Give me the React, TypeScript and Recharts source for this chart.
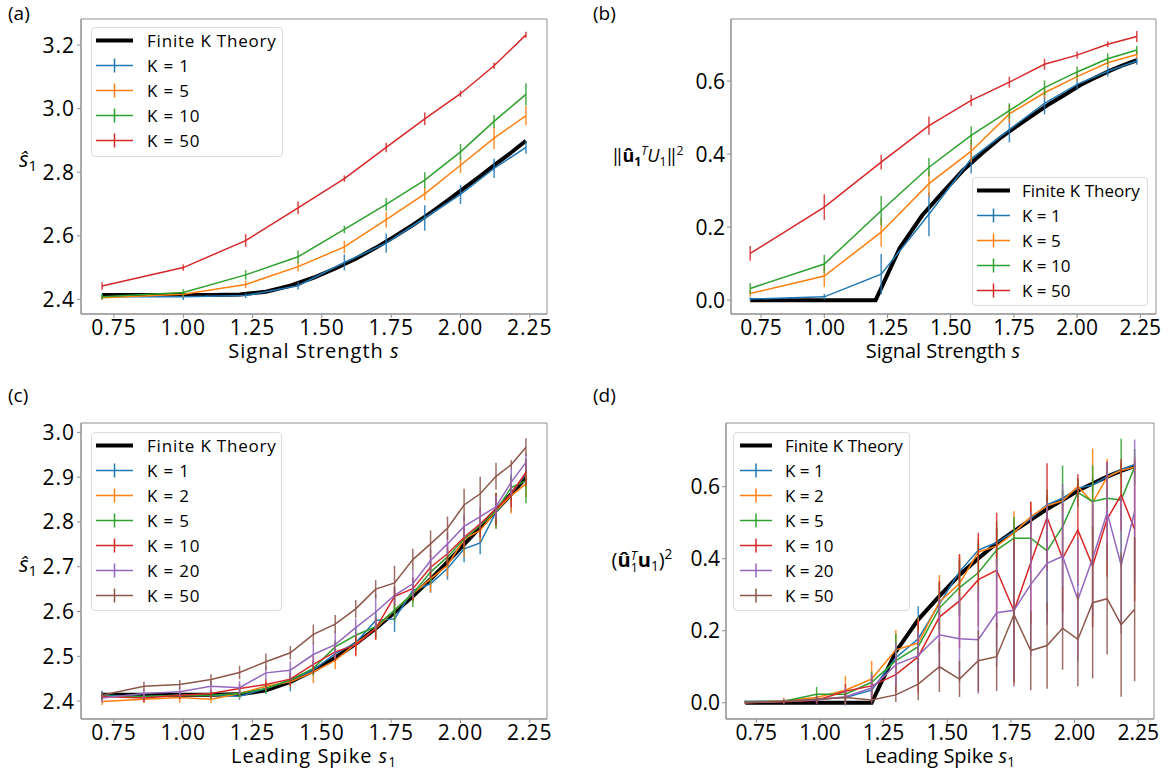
import React from 'react'
import { LineChart, Line, XAxis, YAxis, ErrorBar, ReferenceArea } from 'recharts'

// signal strengths used in panels (a) and (b)
const S10 = [0.707, 1.0, 1.225, 1.414, 1.581, 1.732, 1.871, 2.0, 2.121, 2.236]
// leading spikes used in panels (c) and (d), also the theory grid
const S20 = [0.707, 0.858, 0.987, 1.1, 1.203, 1.298, 1.386, 1.469, 1.548, 1.622,
  1.694, 1.762, 1.828, 1.892, 1.953, 2.013, 2.071, 2.128, 2.183, 2.236]
const X_TICKS = [0.75, 1.0, 1.25, 1.5, 1.75, 2.0, 2.25]
const X_DOMAIN: [number, number] = [0.631, 2.312]

// theory curves
const theoryS = [2.414, 2.414, 2.414, 2.414, 2.415, 2.424, 2.443, 2.468, 2.497, 2.528,
  2.562, 2.598, 2.634, 2.672, 2.711, 2.750, 2.788, 2.826, 2.862, 2.899]
const theoryU = [0, 0, 0, 0, 0, 0.142, 0.231, 0.296, 0.355, 0.401,
  0.443, 0.477, 0.508, 0.538, 0.563, 0.589, 0.609, 0.628, 0.644, 0.657]

// (a)
const aK1 = [2.408, 2.408, 2.412, 2.443, 2.516, 2.577, 2.656, 2.730, 2.812, 2.878]
const aK1E = [0.008, 0.01, 0.008, 0.012, 0.025, 0.03, 0.04, 0.03, 0.03, 0.02]
const aK5 = [2.405, 2.416, 2.447, 2.503, 2.565, 2.651, 2.732, 2.822, 2.907, 2.978]
const aK5E = [0.006, 0.008, 0.012, 0.015, 0.02, 0.025, 0.02, 0.025, 0.035, 0.03]
const aK10 = [2.408, 2.422, 2.477, 2.534, 2.620, 2.699, 2.775, 2.864, 2.960, 3.045]
const aK10E = [0.008, 0.01, 0.015, 0.02, 0.012, 0.02, 0.025, 0.025, 0.02, 0.035]
const aK50 = [2.442, 2.500, 2.585, 2.688, 2.780, 2.878, 2.968, 3.047, 3.135, 3.232]
const aK50E = [0.012, 0.01, 0.02, 0.02, 0.01, 0.015, 0.02, 0.01, 0.01, 0.01]

// (b)
const bK1 = [0.003, 0.009, 0.071, 0.235, 0.387, 0.467, 0.539, 0.591, 0.627, 0.655]
const bK1E = [0.005, 0.008, 0.055, 0.06, 0.04, 0.035, 0.03, 0.015, 0.015, 0.01]
const bK5 = [0.018, 0.066, 0.186, 0.319, 0.408, 0.510, 0.568, 0.612, 0.650, 0.673]
const bK5E = [0.008, 0.03, 0.04, 0.035, 0.03, 0.025, 0.015, 0.012, 0.012, 0.01]
const bK10 = [0.032, 0.099, 0.245, 0.364, 0.451, 0.519, 0.582, 0.625, 0.661, 0.685]
const bK10E = [0.015, 0.025, 0.04, 0.025, 0.025, 0.02, 0.02, 0.015, 0.015, 0.012]
const bK50 = [0.128, 0.255, 0.378, 0.478, 0.547, 0.597, 0.646, 0.671, 0.701, 0.722]
const bK50E = [0.02, 0.035, 0.02, 0.025, 0.015, 0.015, 0.015, 0.01, 0.008, 0.015]

// (c)
const cK1 = [2.413, 2.410, 2.413, 2.413, 2.411, 2.428, 2.447, 2.469, 2.506, 2.530, 2.580, 2.584, 2.647, 2.662, 2.696, 2.740, 2.753, 2.822, 2.863, 2.907]
const cK1E = [0.01, 0.006, 0.008, 0.008, 0.008, 0.01, 0.025, 0.012, 0.015, 0.015, 0.02, 0.03, 0.025, 0.02, 0.025, 0.03, 0.025, 0.03, 0.04, 0.03]
const cK2 = [2.399, 2.404, 2.408, 2.404, 2.417, 2.433, 2.443, 2.465, 2.491, 2.528, 2.562, 2.603, 2.640, 2.673, 2.703, 2.762, 2.781, 2.825, 2.859, 2.885]
const cK2E = [0.008, 0.008, 0.012, 0.008, 0.01, 0.01, 0.012, 0.025, 0.02, 0.025, 0.025, 0.02, 0.02, 0.03, 0.025, 0.04, 0.025, 0.04, 0.04, 0.03]
const cK5 = [2.411, 2.410, 2.413, 2.413, 2.417, 2.428, 2.447, 2.473, 2.521, 2.547, 2.566, 2.603, 2.640, 2.688, 2.722, 2.762, 2.792, 2.825, 2.877, 2.892]
const cK5E = [0.008, 0.008, 0.008, 0.008, 0.008, 0.012, 0.012, 0.015, 0.015, 0.02, 0.025, 0.025, 0.03, 0.025, 0.02, 0.025, 0.02, 0.04, 0.03, 0.05]
const cK10 = [2.410, 2.407, 2.413, 2.417, 2.428, 2.437, 2.449, 2.482, 2.510, 2.525, 2.562, 2.634, 2.651, 2.699, 2.729, 2.766, 2.796, 2.829, 2.863, 2.911]
const cK10E = [0.008, 0.01, 0.008, 0.01, 0.01, 0.012, 0.015, 0.02, 0.02, 0.025, 0.025, 0.02, 0.025, 0.025, 0.025, 0.025, 0.03, 0.035, 0.03, 0.03]
const cK20 = [2.407, 2.417, 2.421, 2.433, 2.430, 2.463, 2.469, 2.504, 2.526, 2.564, 2.599, 2.636, 2.662, 2.714, 2.751, 2.790, 2.812, 2.834, 2.889, 2.933]
const cK20E = [0.01, 0.01, 0.01, 0.012, 0.015, 0.015, 0.02, 0.025, 0.03, 0.02, 0.04, 0.02, 0.03, 0.025, 0.025, 0.025, 0.02, 0.025, 0.03, 0.02]
const cK50 = [2.413, 2.433, 2.437, 2.448, 2.464, 2.488, 2.508, 2.549, 2.572, 2.606, 2.650, 2.664, 2.716, 2.751, 2.786, 2.838, 2.863, 2.902, 2.928, 2.967]
const cK50E = [0.008, 0.01, 0.01, 0.012, 0.015, 0.018, 0.015, 0.022, 0.02, 0.02, 0.02, 0.038, 0.024, 0.03, 0.026, 0.036, 0.038, 0.03, 0.01, 0.02]

// (d)
const dK1 = [0.003, 0.004, 0.010, 0.015, 0.035, 0.125, 0.178, 0.275, 0.364, 0.424, 0.445, 0.475, 0.512, 0.550, 0.568, 0.596, 0.605, 0.628, 0.647, 0.661]
const dK1E = [0.004, 0.004, 0.006, 0.01, 0.02, 0.03, 0.09, 0.03, 0.03, 0.03, 0.04, 0.03, 0.03, 0.02, 0.02, 0.02, 0.02, 0.02, 0.02, 0.01]
const dK2 = [0.001, 0.006, 0.015, 0.035, 0.066, 0.147, 0.166, 0.280, 0.331, 0.419, 0.435, 0.472, 0.517, 0.547, 0.561, 0.601, 0.556, 0.627, 0.645, 0.654]
const dK2E = [0.003, 0.008, 0.01, 0.04, 0.05, 0.055, 0.07, 0.075, 0.08, 0.04, 0.05, 0.06, 0.04, 0.03, 0.03, 0.02, 0.15, 0.05, 0.02, 0.02]
const dK5 = [0.003, 0.004, 0.024, 0.024, 0.057, 0.117, 0.156, 0.263, 0.320, 0.361, 0.424, 0.457, 0.457, 0.422, 0.489, 0.584, 0.559, 0.568, 0.563, 0.655]
const dK5E = [0.003, 0.005, 0.02, 0.01, 0.03, 0.075, 0.06, 0.07, 0.08, 0.08, 0.08, 0.06, 0.07, 0.17, 0.17, 0.04, 0.1, 0.1, 0.17, 0.05]
const dK10 = [0, 0.003, 0.007, 0.032, 0.047, 0.078, 0.128, 0.238, 0.283, 0.342, 0.368, 0.255, 0.389, 0.515, 0.401, 0.480, 0.380, 0.510, 0.577, 0.482]
const dK10E = [0.003, 0.005, 0.01, 0.02, 0.03, 0.05, 0.1, 0.1, 0.13, 0.13, 0.16, 0.2, 0.17, 0.15, 0.15, 0.155, 0.17, 0.16, 0.1, 0.2]
const dK20 = [0.001, 0.004, 0.008, 0.017, 0.041, 0.106, 0.131, 0.189, 0.178, 0.175, 0.250, 0.257, 0.329, 0.387, 0.407, 0.286, 0.401, 0.528, 0.382, 0.531]
const dK20E = [0.003, 0.005, 0.01, 0.025, 0.04, 0.06, 0.07, 0.1, 0.12, 0.15, 0.15, 0.19, 0.2, 0.17, 0.2, 0.17, 0.16, 0.14, 0.19, 0.2]
const dK50 = [0, 0.004, 0.010, 0.015, 0.008, 0.022, 0.052, 0.100, 0.066, 0.117, 0.128, 0.245, 0.145, 0.159, 0.207, 0.176, 0.278, 0.289, 0.217, 0.260]
const dK50E = [0.003, 0.005, 0.01, 0.015, 0.01, 0.02, 0.045, 0.07, 0.05, 0.085, 0.095, 0.2, 0.11, 0.12, 0.115, 0.13, 0.21, 0.155, 0.2, 0.2]

const BLUE = '#1f77b4'
const ORANGE = '#ff7f0e'
const GREEN = '#2ca02c'
const RED = '#d62728'
const PURPLE = '#9467bd'
const BROWN = '#8c564b'
const SPINE = '#8f8f8f'
const FONT = "'Open Sans', 'Noto Sans', sans-serif"

type Ser = { name: string; color: string; xs: number[]; ys: number[]; es: number[] }

const toRows = (xs: number[], ys: number[], es?: number[]) =>
  xs.map((x, i) => ({ x, y: ys[i], e: es ? es[i] : 0 }))

type PanelProps = {
  plotLeft: number
  plotTop: number
  plotW: number
  plotH: number
  yDomain: [number, number]
  yTicks: number[]
  theory: number[]
  series: Ser[]
  spacing: number
}

function Panel(p: PanelProps) {
  const tick = { fill: '#000', fontSize: 21, fontFamily: FONT }
  return (
    <div style={{ position: 'absolute', left: p.plotLeft - 75, top: p.plotTop - 10, letterSpacing: p.spacing }}>
      <LineChart width={p.plotW + 85} height={p.plotH + 55} margin={{ top: 10, right: 10, bottom: 0, left: 0 }}>
        <XAxis dataKey="x" type="number" domain={X_DOMAIN} ticks={X_TICKS} interval={0} allowDataOverflow
          tickFormatter={(v: number) => v.toFixed(2)} height={45} tickSize={4} tickMargin={2}
          stroke={SPINE} tick={tick} />
        <YAxis type="number" domain={p.yDomain} ticks={p.yTicks} interval={0} allowDataOverflow
          tickFormatter={(v: number) => v.toFixed(1)} width={75} tickSize={4} tickMargin={2}
          stroke={SPINE} tick={tick} />
        {/* frame: top and right spines */}
        <ReferenceArea x1={X_DOMAIN[0]} x2={X_DOMAIN[1]} y1={p.yDomain[0]} y2={p.yDomain[1]}
          fill="none" fillOpacity={0} stroke={SPINE} strokeWidth={1} ifOverflow="visible" />
        <Line data={toRows(S20, p.theory)} dataKey="y" stroke="#000" strokeWidth={4}
          dot={false} activeDot={false} isAnimationActive={false} />
        {p.series.map((s) => (
          <Line key={s.name} data={toRows(s.xs, s.ys, s.es)} dataKey="y" stroke={s.color}
            strokeWidth={1.5} dot={false} activeDot={false} isAnimationActive={false}>
            <ErrorBar dataKey="e" direction="y" width={0} stroke={s.color} strokeWidth={1.5}
              strokeOpacity={0.85} />
          </Line>
        ))}
      </LineChart>
    </div>
  )
}

type LegendProps = {
  left: number
  top: number
  width: number
  height: number
  names: string[]
  colors: string[]
  iconX0: number
  iconX1: number
  textX: number
  spacing: number
}

function LegendBox(l: LegendProps) {
  const rows = ['Finite K Theory', ...l.names]
  const mid = (l.iconX0 + l.iconX1) / 2
  return (
    <div style={{
      position: 'absolute', left: l.left, top: l.top, width: l.width, height: l.height,
      border: '1px solid #dcdcdc', borderRadius: 4, background: 'rgba(255,255,255,0.85)',
      boxSizing: 'border-box', fontFamily: FONT, fontSize: 17, letterSpacing: l.spacing
    }}>
      {rows.map((name, i) => (
        <div key={name} style={{ position: 'absolute', left: -1, top: 13 + i * 25 - 12.5 - 1, height: 25, width: l.width }}>
          <svg width={l.iconX1 + 4} height={25} style={{ position: 'absolute', left: 0, top: 0 }}>
            {i === 0 ? (
              <line x1={l.iconX0} x2={l.iconX1} y1={12.5} y2={12.5} stroke="#000" strokeWidth={4} />
            ) : (
              <g stroke={l.colors[i - 1]} strokeWidth={1.5}>
                <line x1={l.iconX0} x2={l.iconX1} y1={12.5} y2={12.5} />
                <line x1={mid} x2={mid} y1={5.5} y2={19.5} />
              </g>
            )}
          </svg>
          <span style={{ position: 'absolute', left: l.textX, top: 0, lineHeight: '25px', whiteSpace: 'nowrap', color: '#000' }}>
            {name}
          </span>
        </div>
      ))}
    </div>
  )
}

const Txt = ({ x, y, size, spacing, children }: { x: number; y: number; size: number; spacing?: number; children: React.ReactNode }) => (
  <div style={{
    position: 'absolute', left: x, top: y, transform: 'translate(-50%, -50%)', whiteSpace: 'nowrap',
    fontFamily: FONT, fontSize: size, lineHeight: 1, color: '#000', letterSpacing: spacing || 0
  }}>{children}</div>
)

const Tag = ({ x, y, children }: { x: number; y: number; children: React.ReactNode }) => (
  <div style={{ position: 'absolute', left: x, top: y, fontFamily: FONT, fontSize: 19, lineHeight: 1, color: '#000' }}>{children}</div>
)

const sub = { fontSize: '0.68em', verticalAlign: '-0.3em', lineHeight: 0 }
const sup = { fontSize: '0.68em', verticalAlign: '0.55em', lineHeight: 0 }

const kNames4 = ['K = 1', 'K = 5', 'K = 10', 'K = 50']
const kColors4 = [BLUE, ORANGE, GREEN, RED]
const kNames6 = ['K = 1', 'K = 2', 'K = 5', 'K = 10', 'K = 20', 'K = 50']
const kColors6 = [BLUE, ORANGE, GREEN, RED, PURPLE, BROWN]

export default function App() {
  const aSeries: Ser[] = [
    { name: 'K = 1', color: BLUE, xs: S10, ys: aK1, es: aK1E },
    { name: 'K = 5', color: ORANGE, xs: S10, ys: aK5, es: aK5E },
    { name: 'K = 10', color: GREEN, xs: S10, ys: aK10, es: aK10E },
    { name: 'K = 50', color: RED, xs: S10, ys: aK50, es: aK50E },
  ]
  const bSeries: Ser[] = [
    { name: 'K = 1', color: BLUE, xs: S10, ys: bK1, es: bK1E },
    { name: 'K = 5', color: ORANGE, xs: S10, ys: bK5, es: bK5E },
    { name: 'K = 10', color: GREEN, xs: S10, ys: bK10, es: bK10E },
    { name: 'K = 50', color: RED, xs: S10, ys: bK50, es: bK50E },
  ]
  const cSeries: Ser[] = [
    { name: 'K = 1', color: BLUE, xs: S20, ys: cK1, es: cK1E },
    { name: 'K = 2', color: ORANGE, xs: S20, ys: cK2, es: cK2E },
    { name: 'K = 5', color: GREEN, xs: S20, ys: cK5, es: cK5E },
    { name: 'K = 10', color: RED, xs: S20, ys: cK10, es: cK10E },
    { name: 'K = 20', color: PURPLE, xs: S20, ys: cK20, es: cK20E },
    { name: 'K = 50', color: BROWN, xs: S20, ys: cK50, es: cK50E },
  ]
  const dSeries: Ser[] = [
    { name: 'K = 1', color: BLUE, xs: S20, ys: dK1, es: dK1E },
    { name: 'K = 2', color: ORANGE, xs: S20, ys: dK2, es: dK2E },
    { name: 'K = 5', color: GREEN, xs: S20, ys: dK5, es: dK5E },
    { name: 'K = 10', color: RED, xs: S20, ys: dK10, es: dK10E },
    { name: 'K = 20', color: PURPLE, xs: S20, ys: dK20, es: dK20E },
    { name: 'K = 50', color: BROWN, xs: S20, ys: dK50, es: dK50E },
  ]

  return (
    <div style={{ position: 'absolute', left: 0, top: 0, width: 1171, height: 774, background: '#fff', overflow: 'hidden' }}>
      <Panel plotLeft={81} plotTop={19} plotW={466} plotH={295} yDomain={[2.354, 3.282]}
        yTicks={[2.4, 2.6, 2.8, 3.0, 3.2]} theory={theoryS} series={aSeries} spacing={1} />
      <Panel plotLeft={731} plotTop={19} plotW={425} plotH={295} yDomain={[-0.038, 0.77]}
        yTicks={[0, 0.2, 0.4, 0.6]} theory={theoryU} series={bSeries} spacing={0} />
      <Panel plotLeft={81} plotTop={423} plotW={466} plotH={296} yDomain={[2.36, 3.021]}
        yTicks={[2.4, 2.5, 2.6, 2.7, 2.8, 2.9, 3.0]} theory={theoryS} series={cSeries} spacing={1} />
      <Panel plotLeft={726} plotTop={423} plotW={428} plotH={296} yDomain={[-0.045, 0.777]}
        yTicks={[0, 0.2, 0.4, 0.6]} theory={theoryU} series={dSeries} spacing={0} />

      <LegendBox left={91} top={27} width={192} height={130} names={kNames4} colors={kColors4}
        iconX0={5} iconX1={42} textX={56} spacing={0.8} />
      <LegendBox left={972} top={177} width={176} height={129} names={kNames4} colors={kColors4}
        iconX0={5} iconX1={38} textX={50} spacing={0} />
      <LegendBox left={91} top={432} width={191} height={179} names={kNames6} colors={kColors6}
        iconX0={5} iconX1={42} textX={56} spacing={0.8} />
      <LegendBox left={733} top={432} width={177} height={179} names={kNames6} colors={kColors6}
        iconX0={7} iconX1={39} textX={52} spacing={0} />

      <Tag x={8} y={4}>(a)</Tag>
      <Tag x={593} y={4}>(b)</Tag>
      <Tag x={8} y={386}>(c)</Tag>
      <Tag x={593} y={386}>(d)</Tag>

      <Txt x={314} y={351} size={20} spacing={1}>Signal Strength <i>s</i></Txt>
      <Txt x={943} y={351} size={20}>Signal Strength <i>s</i></Txt>
      <Txt x={314} y={756} size={20} spacing={1}>Leading Spike <i>s</i><span style={sub}>1</span></Txt>
      <Txt x={940} y={756} size={20}>Leading Spike <i>s</i><span style={sub}>1</span></Txt>

      <Txt x={28} y={158} size={22}><i>ŝ</i><span style={sub}>1</span></Txt>
      <Txt x={28} y={563} size={22}><i>ŝ</i><span style={sub}>1</span></Txt>
      <Txt x={648} y={155} size={18}>
        ‖<b>û</b><b style={sub}>1</b><i style={sup}>T</i><i>U</i><span style={sub}>1</span>‖<span style={sup}>2</span>
      </Txt>
      <Txt x={642} y={561} size={20}>
        (<b>û</b>
        <span style={{ display: 'inline-flex', flexDirection: 'column', fontSize: '0.62em', lineHeight: '0.9em', verticalAlign: 'middle' }}>
          <i>T</i><span>1</span>
        </span>
        <b>u</b><span style={sub}>1</span>)<span style={sup}>2</span>
      </Txt>
    </div>
  )
}
